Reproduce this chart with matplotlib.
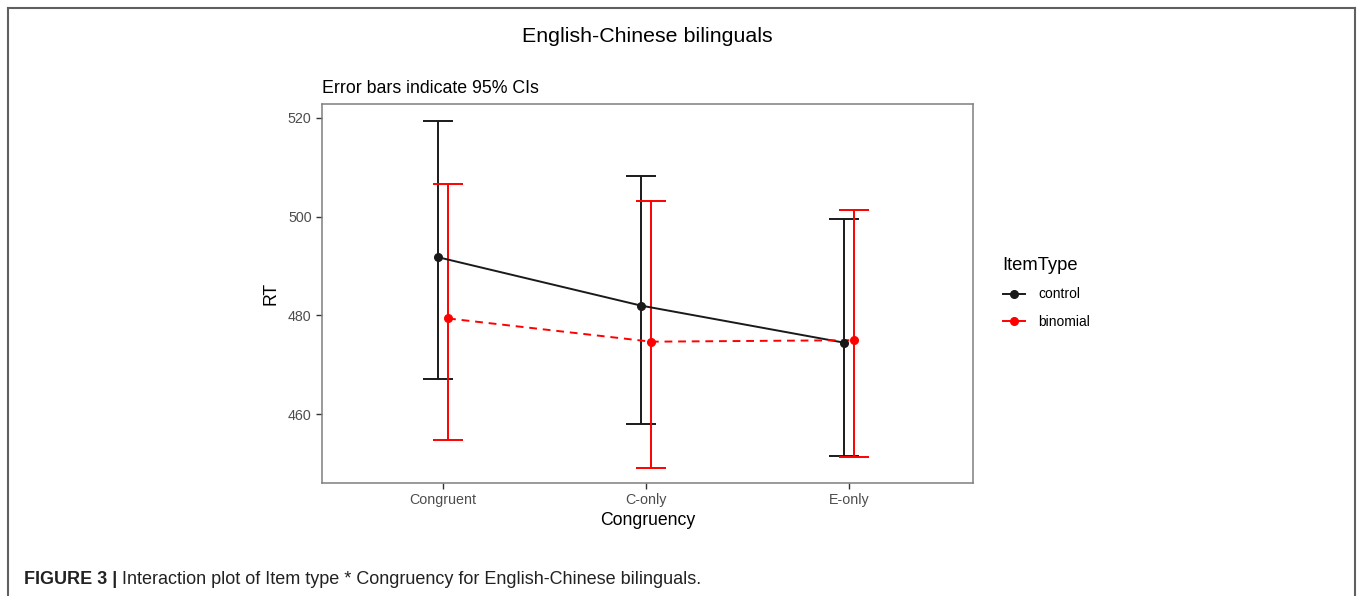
import matplotlib.pyplot as plt
from matplotlib.lines import Line2D
import numpy as np

plt.rcParams["font.family"] = ["Liberation Sans", "DejaVu Sans"]

# data
congruency = ["Congruent", "C-only", "E-only"]
control_mean = [491.8, 482.0, 474.5]
control_lo = [467.2, 458.1, 451.6]
control_hi = [519.3, 508.3, 499.6]
binomial_mean = [479.4, 474.7, 475.0]
binomial_lo = [454.9, 449.2, 451.3]
binomial_hi = [506.7, 503.1, 501.3]
yticks = [460, 480, 500, 520]

W, H = 1358, 596
fig = plt.figure(figsize=(W/100, H/100), dpi=100)
ax = fig.add_axes([322/W, 1 - 483/H, (973-322)/W, (483-104)/H])

x = np.arange(1, len(congruency) + 1)
dodge = 0.025

def draw(xpos, mean, lo, hi, color, ls, label):
    mean, lo, hi = map(np.array, (mean, lo, hi))
    ax.errorbar(xpos, mean, yerr=[mean - lo, hi - mean], fmt="none",
                ecolor=color, elinewidth=1.4, capsize=10.5, capthick=1.4, zorder=2)
    ax.plot(xpos, mean, color=color, ls=ls, lw=1.4, zorder=3)
    ax.plot(xpos, mean, "o", color=color, ms=5.5, zorder=4)
    return Line2D([], [], color=color, lw=1.4, marker="o", ms=5.5, label=label)

h1 = draw(x - dodge, control_mean, control_lo, control_hi, "#1a1a1a", "-", "control")
h2 = draw(x + dodge, binomial_mean, binomial_lo, binomial_hi, "#ff0000", (0, (4, 3)), "binomial")

ax.set_xlim(0.404, 3.61)
ax.set_ylim(446.1, 522.8)
ax.set_xticks(x)
ax.set_xticklabels(congruency)
ax.set_yticks(yticks)
ax.tick_params(labelsize=10.3, labelcolor="#4d4d4d", color="#333333", length=4, width=1)
for s in ax.spines.values():
    s.set_color("#7f7f7f")
    s.set_linewidth(1.1)

ax.set_xlabel("Congruency", fontsize=12.7, labelpad=3)
ax.set_ylabel("RT", fontsize=12.7, labelpad=6)
ax.set_title("Error bars indicate 95% CIs", loc="left", fontsize=12.8, pad=8)

fig.text(647/W, 1 - 36/H, "English-Chinese bilinguals", ha="center", va="center", fontsize=15.4)

leg = fig.legend(handles=[h1, h2], title="ItemType", loc="upper left",
                 bbox_to_anchor=(990/W, 1 - 244/H), frameon=False, fontsize=10,
                 title_fontsize=13.2, handlelength=1.6, labelspacing=1.0, handletextpad=1.0)
leg._legend_box.align = "left"
leg._legend_box.sep = 10

# caption
cy = 1 - 579/H
t = fig.text(24/W, cy, "FIGURE 3 |", fontsize=13, fontweight="bold", va="center", color="#222222")
fig.canvas.draw()
bb = t.get_window_extent()
fig.text((bb.x1 + 5)/W, cy, "Interaction plot of Item type * Congruency for English-Chinese bilinguals.",
         fontsize=13, va="center", color="#222222")

# outer frame
fc = "#606060"
fig.add_artist(Line2D([8/W, 1355/W], [1 - 8/H, 1 - 8/H], color=fc, lw=1.5))
fig.add_artist(Line2D([8/W, 8/W], [0, 1 - 8/H], color=fc, lw=1.5))
fig.add_artist(Line2D([1355/W, 1355/W], [0, 1 - 8/H], color=fc, lw=1.5))

fig.savefig("out.png", dpi=100)
